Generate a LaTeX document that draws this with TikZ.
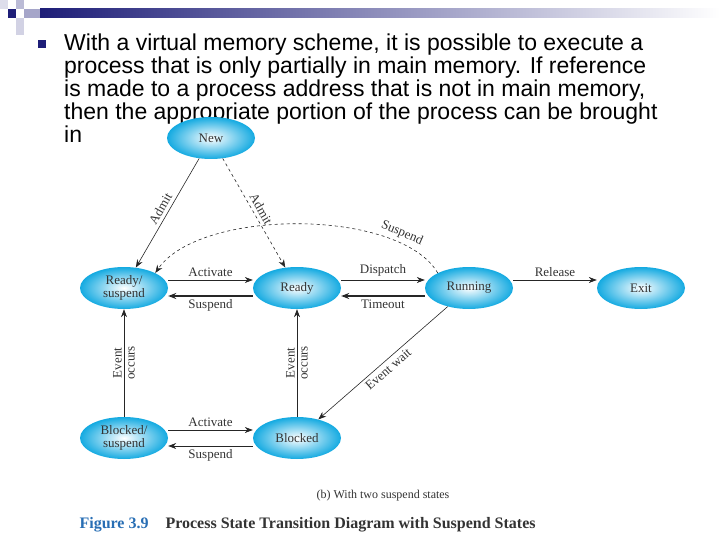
\documentclass[tikz,border=0pt]{standalone}
\usepackage{fontspec}
\setsansfont{Liberation Sans}
\setmainfont{Liberation Serif}
\usepackage{tikz}
\usetikzlibrary{arrows.meta, shapes.geometric, positioning}
\definecolor{navy}{RGB}{30,30,120}
\definecolor{stcyan}{RGB}{20,170,225}
\definecolor{figblue}{RGB}{40,110,180}

\begin{document}
\begin{tikzpicture}[x=1pt, y=-1pt,
  state/.style ={ellipse, inner color=white, outer color=stcyan,
    minimum width=88pt, minimum height=42pt, inner sep=0pt, align=center,
    font=\fontsize{13}{13}\selectfont, text=black!80},
  %
  trans/.style ={-{Stealth[length=8pt]}, semithick, black!85},
  lbl/.style ={font=\fontsize{13}{13}\selectfont, text=black!80} ]

  \useasboundingbox (0,0) rectangle (720,540);

  % slide decoration
  \shade[left color=navy, right color=white] (40,9) rectangle (720,18);
  \fill[navy] (8,9) rectangle (16,18);
  \fill[navy!30] (16,0) rectangle (24,9);
  \fill[navy!40] (24,9) rectangle (40,18);
  \fill[navy!20] (16,18) rectangle (24,35);
  \fill[navy!15] (0,0) rectangle (8,9);
  \fill[navy] (38,40) rectangle (46,48);

  \node[anchor=north west, font=\sffamily\fontsize{23}{23}\selectfont,
    align=left, inner sep=0pt] (para) at (64,34)
    {With a virtual memory scheme, it is possible to execute a\\
     process that is only partially in main memory. If reference\\
     is made to a process address that is not in main memory,\\
     then the appropriate portion of the process can be brought\\
     in};

  % states
  \node[state] (New) at (211,138) {New};
  \node[state] (ReadySusp) at (124,288) {Ready/\\suspend};
  \node[state] (Ready) at (297,288) {Ready};
  \node[state] (Running) at (469,288) {Running};
  \node[state] (Exit) at (641,288) {Exit};
  \node[state] (BlockedSusp) at (124,438) {Blocked/\\suspend};
  \node[state] (Blocked) at (297,438) {Blocked};

  % transitions
  \draw[trans] (New) -- node[lbl, sloped, above] {Admit} (ReadySusp);
  \draw[trans, dashed] (New) -- node[lbl, sloped, above] {Admit} (Ready);
  \draw[trans, dashed] (Running.north west) .. controls (400,208) and (200,208) .. node[lbl, pos=0.2, sloped, above] {Suspend} (ReadySusp.north east);
  \draw[trans] ([yshift=8pt]ReadySusp.east) -- node[lbl, above] {Activate} ([yshift=8pt]Ready.west);
  \draw[trans, very thick] ([yshift=-8pt]Ready.west) -- node[lbl, below] {Suspend} ([yshift=-8pt]ReadySusp.east);
  \draw[trans] ([yshift=8pt]Ready.east) -- node[lbl, above] {Dispatch} ([yshift=8pt]Running.west);
  \draw[trans, very thick] ([yshift=-8pt]Running.west) -- node[lbl, below] {Timeout} ([yshift=-8pt]Ready.east);
  \draw[trans] ([yshift=8pt]Running.east) -- node[lbl, above] {Release} ([yshift=8pt]Exit.west);
  \draw[trans] (BlockedSusp) -- node[lbl, align=center, rotate=90] {Event\\occurs} (ReadySusp);
  \draw[trans] (Blocked) -- node[lbl, align=center, rotate=90] {Event\\occurs} (Ready);
  \draw[trans] (Running) -- node[lbl, sloped, below] {Event wait} (Blocked);
  \draw[trans] ([yshift=8pt]BlockedSusp.east) -- node[lbl, above] {Activate} ([yshift=8pt]Blocked.west);
  \draw[trans] ([yshift=-8pt]Blocked.west) -- node[lbl, below] {Suspend} ([yshift=-8pt]BlockedSusp.east);

  % captions
  \node[lbl, font=\fontsize{12}{12}\selectfont] (sub) at (383,496) {(b) With two suspend states};
  \node[anchor=west, font=\bfseries\fontsize{16}{16}\selectfont, text=figblue] (fig) at (76,525) {Figure 3.9};
  \node[anchor=west, font=\bfseries\fontsize{16}{16}\selectfont, text=black!80] (title) at (162,525) {Process State Transition Diagram with Suspend States};
\end{tikzpicture}
\end{document}
